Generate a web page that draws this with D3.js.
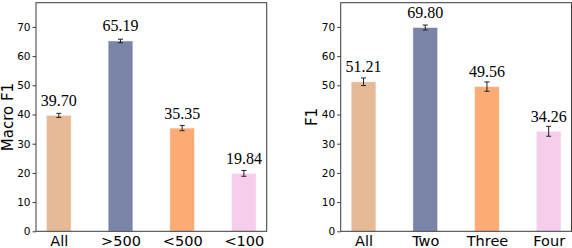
<!DOCTYPE html>
<html><head><meta charset="utf-8">
<script src="https://cdn.jsdelivr.net/npm/d3@7"></script>
<style>
html,body{margin:0;padding:0;background:#fff;overflow:hidden}
svg{display:block}
</style></head>
<body>
<svg id="chart" width="572" height="248"></svg>
<script>
const catsA = ["All", ">500", "<500", "<100"];
const valsA = [39.70, 65.19, 35.35, 19.84];
const errA = [0.7, 0.6, 0.9, 1.0];
const titleA = "Macro F1";

const catsB = ["All", "Two", "Three", "Four"];
const valsB = [51.21, 69.80, 49.56, 34.26];
const errB = [1.3, 0.85, 1.6, 1.7];
const titleB = "F1";

const barColors = ["#e6ba96", "#7a84a6", "#fdab74", "#f7cdec"];
const yTicks = [0, 10, 20, 30, 40, 50, 60, 70];
const yMax = 78.3;

const svg = d3.select("#chart");

function panel(cats, vals, errs, title, x0, x1, titleX) {
  const top = 2.7, bottom = 231.3;
  const x = d3.scaleLinear().domain([-0.37, cats.length - 1 + 0.37]).range([x0, x1]);
  const y = d3.scaleLinear().domain([0, yMax]).range([bottom, top]);
  const g = svg.append("g");
  const bw = x(0.4) - x(0);

  g.selectAll("rect.bar").data(vals).enter().append("rect")
    .attr("class", "bar")
    .attr("x", (d, i) => x(i) - bw / 2)
    .attr("width", bw)
    .attr("y", d => y(d))
    .attr("height", d => y(0) - y(d))
    .attr("fill", (d, i) => barColors[i])
    .attr("stroke", "#ffffff")
    .attr("stroke-opacity", 0.45)
    .attr("stroke-width", 1);

  // error bars
  const eb = g.selectAll("g.err").data(vals).enter().append("g").attr("class", "err")
    .attr("stroke", "#222").attr("stroke-width", 1);
  eb.append("line")
    .attr("x1", (d, i) => x(i)).attr("x2", (d, i) => x(i))
    .attr("y1", (d, i) => y(d - errs[i])).attr("y2", (d, i) => y(d + errs[i]));
  eb.append("line")
    .attr("x1", (d, i) => x(i) - 2.5).attr("x2", (d, i) => x(i) + 2.5)
    .attr("y1", (d, i) => y(d - errs[i])).attr("y2", (d, i) => y(d - errs[i]));
  eb.append("line")
    .attr("x1", (d, i) => x(i) - 2.5).attr("x2", (d, i) => x(i) + 2.5)
    .attr("y1", (d, i) => y(d + errs[i])).attr("y2", (d, i) => y(d + errs[i]));

  // value labels
  g.selectAll("text.val").data(vals).enter().append("text")
    .attr("class", "val")
    .attr("x", (d, i) => x(i))
    .attr("y", d => y(d) - 9.5)
    .attr("text-anchor", "middle")
    .attr("font-family", "'Liberation Serif', 'Times New Roman', serif")
    .attr("font-size", 16)
    .attr("fill", "#000")
    .text(d => d.toFixed(2));

  // frame
  g.append("rect")
    .attr("x", x0).attr("y", top)
    .attr("width", x1 - x0).attr("height", bottom - top)
    .attr("fill", "none").attr("stroke", "#3a3a3a").attr("stroke-width", 1);

  // y axis
  const ya = g.append("g").attr("transform", `translate(${x0},0)`)
    .call(d3.axisLeft(y).tickValues(yTicks).tickSize(3.5).tickPadding(2).tickFormat(d3.format("d")));
  ya.select(".domain").remove();
  ya.selectAll("line").attr("stroke", "#3a3a3a");
  ya.selectAll("text").attr("font-family", "'DejaVu Sans', sans-serif").attr("font-size", 10.5).attr("fill", "#000");

  // x axis
  const xa = g.append("g").attr("transform", `translate(0,${bottom})`)
    .call(d3.axisBottom(x).tickValues(d3.range(cats.length)).tickSize(0).tickPadding(0).tickFormat(i => cats[i]));
  xa.select(".domain").remove();
  xa.selectAll("text")
    .attr("dy", null)
    .attr("y", 14.6)
    .attr("font-family", "'DejaVu Sans', sans-serif")
    .attr("font-size", 14.5)
    .attr("fill", "#000");

  // y title
  g.append("text")
    .attr("transform", `translate(${titleX},${(top + bottom) / 2}) rotate(-90)`)
    .attr("text-anchor", "middle")
    .attr("font-family", "'DejaVu Sans', sans-serif")
    .attr("font-size", 15)
    .attr("fill", "#000")
    .text(title);
}

panel(catsA, valsA, errA, titleA, 36, 266.7, 12.5);
panel(catsB, valsB, errB, titleB, 340.7, 571.5, 316.5);
</script>
</body></html>
